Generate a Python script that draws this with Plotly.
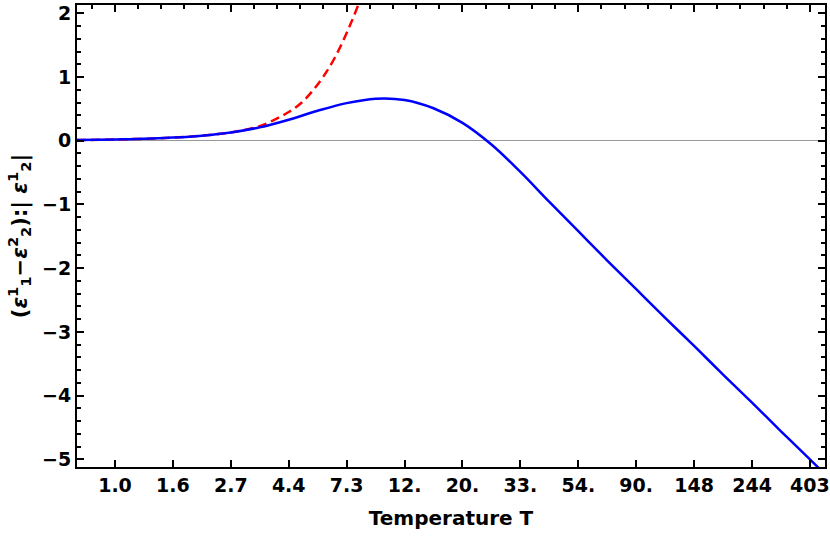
import numpy as np
import plotly.graph_objects as go

# x positions stored as ln(T); the axis itself is logarithmic in T
ln_t_exato = [-0.33, 0.0, 0.25, 0.5, 0.75, 1.0, 1.25, 1.5, 1.75, 2.0, 2.25, 2.5,
              2.75, 3.0, 3.25, 3.5, 3.75, 4.0, 4.25, 4.5, 4.75, 5.0, 5.25, 5.5,
              5.75, 6.0, 6.15]
valor_exato = [0.01, 0.02, 0.03, 0.05, 0.08, 0.13, 0.21, 0.33, 0.47, 0.59, 0.66, 0.64,
               0.51, 0.28, -0.06, -0.49, -0.96, -1.42, -1.88, -2.33, -2.78, -3.22, -3.67, -4.11,
               -4.56, -5.00, -5.27]

ln_t_serie = [-0.33, 0.0, 0.25, 0.5, 0.75, 1.0, 1.25, 1.4, 1.5, 1.6, 1.7, 1.8,
              1.9, 2.0, 2.1, 2.2]
valor_serie = [0.01, 0.02, 0.03, 0.05, 0.08, 0.13, 0.23, 0.35, 0.45, 0.58, 0.77, 1.01,
               1.31, 1.69, 2.13, 2.65]

tick_labels = ["1.0", "1.6", "2.7", "4.4", "7.3", "12.", "20.", "33.", "54.",
               "90.", "148", "244", "403"]

# axis geometry (in ln T)
ln_min, ln_max = -0.328, 6.13
y_min, y_max = -5.12, 2.13

T_exato = np.exp(ln_t_exato)
T_serie = np.exp(ln_t_serie)

ticks_baixo = np.exp(np.arange(0, 6.01, 0.5))
ticks_topo = np.exp(np.arange(0, 6.01, 1.0))
minor_topo = np.exp(np.arange(-0.2, 6.2, 0.2))
ticks_y = list(range(-5, 3))
minor_y = [round(v, 1) for v in np.arange(-5.0, 2.2, 0.2)]

x_range = [np.log10(np.exp(ln_min)), np.log10(np.exp(ln_max))]

FONTE = "DejaVu Sans"

fig = go.Figure()

fig.add_trace(go.Scatter(
    x=T_serie, y=valor_serie, mode="lines",
    line=dict(color="rgb(255,0,0)", width=2.5, dash="9px,5px", shape="spline"),
    name="serie"
))
fig.add_trace(go.Scatter(
    x=T_exato, y=valor_exato, mode="lines",
    line=dict(color="rgb(0,0,255)", width=2.5, shape="spline"),
    name="exato"
))
# invisible trace so the mirrored frame axes get drawn
fig.add_trace(go.Scatter(x=[1.0], y=[0.0], xaxis="x2", yaxis="y2",
                         mode="markers", marker=dict(opacity=0), hoverinfo="skip"))

eixo = dict(showline=True, linewidth=2, linecolor="black", showgrid=False,
            ticks="inside", tickwidth=2, tickcolor="black", ticklen=7,
            automargin=False)
minor_ticks = dict(ticks="inside", ticklen=4, tickwidth=2, tickcolor="black",
                   tickmode="array")

fig.update_layout(
    width=830, height=539,
    margin=dict(l=77, r=5, t=5, b=72),
    plot_bgcolor="white", paper_bgcolor="white",
    showlegend=False,
    font=dict(family=FONTE, size=18, color="black"),
    xaxis=dict(
        eixo, type="log", range=x_range, zeroline=False,
        tickmode="array", tickvals=ticks_baixo, ticktext=tick_labels,
        tickfont=dict(family=FONTE, size=19, weight="bold"),
        ticklabeloverflow="allow",
        title=dict(text="Temperature T", font=dict(family=FONTE, size=20, weight="bold"),
                   standoff=16),
    ),
    yaxis=dict(
        eixo, range=[y_min, y_max],
        tickmode="array", tickvals=ticks_y,
        ticktext=[str(v).replace("-", "\u2212") for v in ticks_y],
        tickfont=dict(family=FONTE, size=19, weight="bold"),
        minor=dict(minor_ticks, tickvals=minor_y),
        zeroline=True, zerolinecolor="#999999", zerolinewidth=1,
        title=dict(text="(<i>ε</i><sup>1</sup><sub>1</sub>\u2212<i>ε</i><sup>2</sup><sub>2</sub>):|"
                        " <i>ε</i><sup>1</sup><sub>2</sub>|",
                   font=dict(family=FONTE, size=21, weight="bold"), standoff=9),
    ),
    xaxis2=dict(
        eixo, type="log", range=x_range, overlaying="x", side="top", anchor="y2",
        zeroline=False, showticklabels=False,
        tickmode="array", tickvals=ticks_topo,
        minor=dict(minor_ticks, tickvals=minor_topo),
    ),
    yaxis2=dict(
        eixo, range=[y_min, y_max], overlaying="y", side="right", anchor="x2",
        zeroline=False, showticklabels=False,
        tickmode="array", tickvals=ticks_y,
        minor=dict(minor_ticks, tickvals=minor_y),
    ),
)

# drop the default 8px body margin so the figure sits at the window's corner
fig.write_html("out.html", config={"displayModeBar": False},
               post_script="document.body.style.margin='0';")
